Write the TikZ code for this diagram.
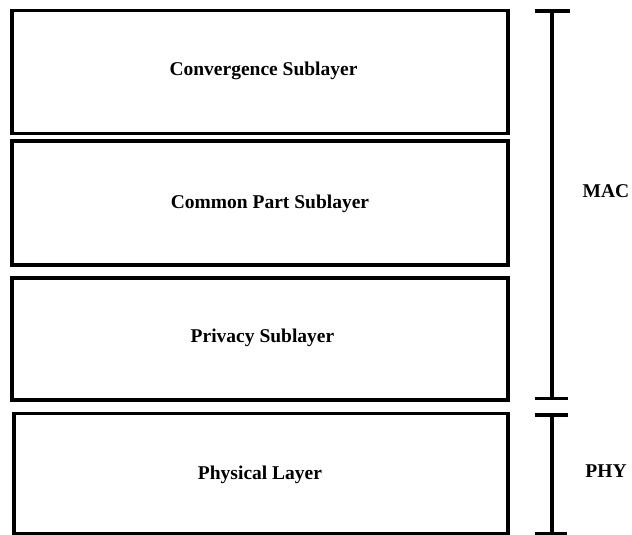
\documentclass[tikz,border=0pt]{standalone}
\usepackage{fontspec}
\setmainfont{Liberation Serif}
\begin{document}
\begin{tikzpicture}[x=1pt,y=-1pt,
  layerbox/.style={draw=black,line width=3.2pt,inner sep=0pt},
  layertext/.style={font=\fontsize{19.5}{22}\selectfont\bfseries,anchor=base,inner sep=0pt},
  brace/.style={line width=3.2pt,draw=black}]
\useasboundingbox[fill=white] (0,0) rectangle (632,535);
% boxes
\node[layerbox,minimum width=496pt,minimum height=123pt] (conv) at (260,71.7) {};
\node[layerbox,minimum width=496pt,minimum height=124pt] (cps) at (260,203) {};
\node[layerbox,minimum width=496pt,minimum height=122pt] (priv) at (260,339) {};
\node[layerbox,minimum width=494pt,minimum height=120pt] (phy) at (261,473.2) {};
% texts
\node[layertext] (t1) at (263.5,75.8) {Convergence Sublayer};
\node[layertext] (t2) at (270,208) {Common Part Sublayer};
\node[layertext] (t3) at (262.5,342) {Privacy Sublayer};
\node[layertext] (t4) at (260,479) {Physical Layer};
% brackets
\coordinate (macTop) at (552,11);
\coordinate (macBot) at (552,398.5);
\coordinate (phyTop) at (552,415);
\coordinate (phyBot) at (552,533.5);
\draw[brace] (macTop) -- (macBot);
\draw[brace] ([xshift=-17pt]macTop) -- ([xshift=18pt]macTop);
\draw[brace] ([xshift=-17pt]macBot) -- ([xshift=16pt]macBot);
\draw[brace] (phyTop) -- (phyBot);
\draw[brace] ([xshift=-17pt]phyTop) -- ([xshift=16pt]phyTop);
\draw[brace] ([xshift=-17pt]phyBot) -- ([xshift=15pt]phyBot);
\node[layertext] (mac) at (606,197.5) {MAC};
\node[layertext] (phyl) at (606,477) {PHY};
\end{tikzpicture}
\end{document}
